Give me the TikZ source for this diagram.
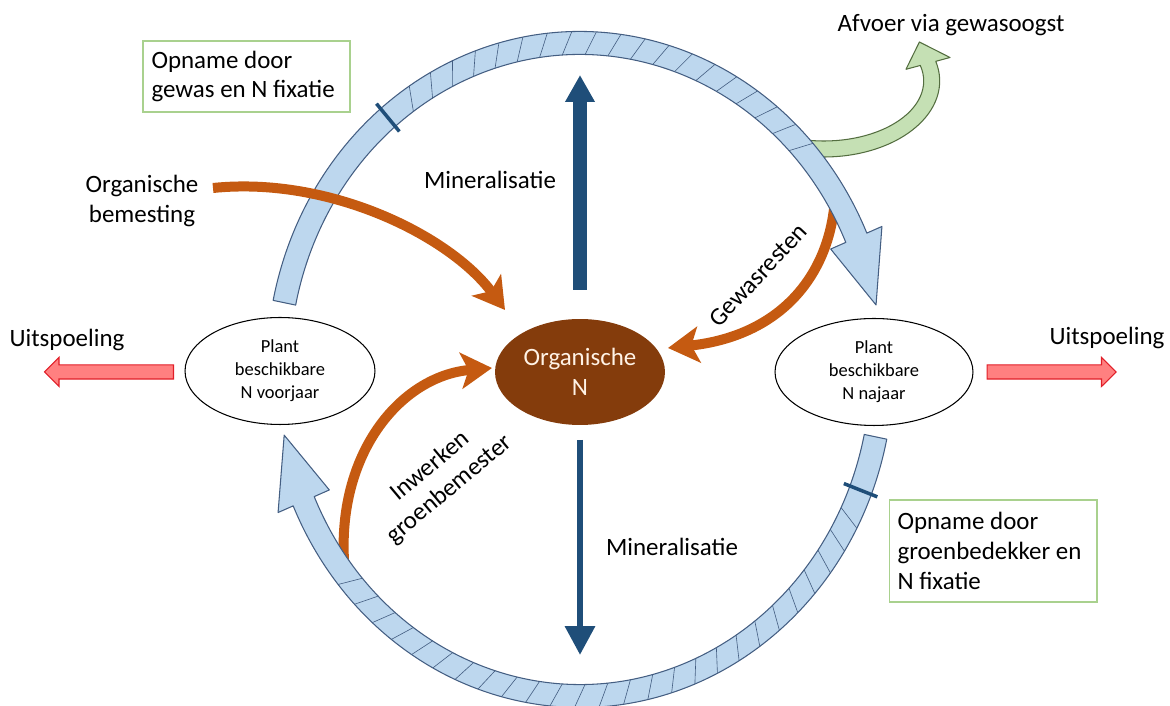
\documentclass[tikz,border=0pt]{standalone}
\usepackage{fontspec}
\setmainfont{Carlito}
\usetikzlibrary{arrows.meta, positioning, shapes.geometric, shapes.arrows}

\definecolor{bandfill}{RGB}{189,215,238}
\definecolor{bandline}{RGB}{68,94,130}
\definecolor{mineralblue}{RGB}{31,78,121}
\definecolor{feedorange}{RGB}{197,90,17}
\definecolor{orgbrown}{RGB}{132,60,12}
\definecolor{harvestfill}{RGB}{197,224,180}
\definecolor{harvestline}{RGB}{84,110,64}
\definecolor{leachfill}{RGB}{255,128,128}
\definecolor{leachline}{RGB}{225,30,40}
\definecolor{boxline}{RGB}{169,209,142}

\begin{document}
\begin{tikzpicture}[
      x=0.02cm, y=0.02cm,
      every node/.style={font=\fontsize{14.2}{17}\selectfont},
      pool/.style={ellipse, draw=black, line width=0.6pt, fill=white, inner sep=0pt, align=center, minimum height=2.14cm, font=\fontsize{10.5}{13}\selectfont},
      organic/.style={ellipse, fill=orgbrown, text=white!90!orange, inner sep=0pt, align=center, minimum width=3.4cm, minimum height=2.12cm},
      uptake/.style={rectangle, draw=boxline, line width=0.6pt, fill=white, align=flush left, inner xsep=0.17cm, inner ysep=0pt},
      leach/.style={single arrow, draw=leachline, fill=leachfill, line width=0.6pt, inner xsep=0pt, inner ysep=0.13cm, minimum width=0pt, minimum height=2.58cm, single arrow head extend=0.15cm},
      band/.style={fill=bandfill, draw=bandline, line width=0.6pt, line join=round},
      hatch/.style={draw=bandline, line width=0.35pt},
      marker/.style={draw=mineralblue, line width=2pt},
      harvest/.style={fill=harvestfill, draw=harvestline, line width=0.6pt, line join=round},
      feed/.style={draw=feedorange, line width=0.2cm, -{Stealth[length=0.62cm, width=0.72cm, inset=0.15cm]}},
      mineral/.style={draw=mineralblue, line width=0.28cm, -{Triangle[length=0.54cm, width=0.56cm]}},
      mineralthin/.style={draw=mineralblue, line width=0.13cm, -{Triangle[length=0.58cm, width=0.58cm]}}
    ]
    \useasboundingbox (0,0) rectangle (1170,706);

    % Harvest arrow (under the cycle)
    \begin{scope}[shift={(824,625)}]
      \path[harvest] ({115.7*cos(-100)},{76*sin(-100)})
        arc[start angle=-100, end angle=15, x radius=115.7, y radius=76]
        -- (126,23.5) -- (95.4,39) -- (82,11.7)
        -- ({99.7*cos(15)},{60*sin(15)})
        arc[start angle=15, end angle=-100, x radius=99.7, y radius=60]
        -- cycle;
    \end{scope}

    % Free ends
    \coordinate (residueStart) at (835,508);
    \coordinate (residueEnd) at (668,358);
    \coordinate (greenStart) at (345,133);
    \coordinate (greenEnd) at (492,338);
    \coordinate (manureStart) at (213,518);
    \coordinate (manureEnd) at (505,396);

    % Orange arrows starting under the cycle
    \draw[feed] (residueStart) .. controls (830,430) and (780,370) .. (residueEnd);
    \draw[feed] (greenStart) .. controls (333,250) and (400,330) .. (greenEnd);

    % Cycle
    \begin{scope}[shift={(580,336.5)}]
      \path[band] ({313.5*cos(168.2)},{338*sin(168.2)})
        arc[start angle=168.2, end angle=23.8, x radius=313.5, y radius=338]
        -- ({330*cos(23.8)},{354.5*sin(23.8)})
        -- ({302*cos(11.4)},{326.5*sin(11.4)})
        -- ({274*cos(23.8)},{298.5*sin(23.8)})
        -- ({290.5*cos(23.8)},{315*sin(23.8)})
        arc[start angle=23.8, end angle=168.2, x radius=290.5, y radius=315]
        -- cycle;
      \path[band] ({313.5*cos(-11.9)},{338*sin(-11.9)})
        arc[start angle=-11.9, end angle=-156.2, x radius=313.5, y radius=338]
        -- ({330*cos(-156.2)},{354.5*sin(-156.2)})
        -- ({302*cos(-168.4)},{326.5*sin(-168.4)})
        -- ({274*cos(-156.2)},{298.5*sin(-156.2)})
        -- ({290.5*cos(-156.2)},{315*sin(-156.2)})
        arc[start angle=-156.2, end angle=-11.9, x radius=290.5, y radius=315]
        -- cycle;
      \foreach \ang in {125,120.5,...,44}
        \draw[hatch] ({290.5*cos(\ang)},{315*sin(\ang)}) -- ({313.5*cos(\ang-2)},{338*sin(\ang-2)});
      \foreach \ang in {-26,-30.5,...,-140}
        \draw[hatch] ({290.5*cos(\ang)},{315*sin(\ang)}) -- ({313.5*cos(\ang-2)},{338*sin(\ang-2)});
      \draw[marker] ({284*cos(129.5)},{308.5*sin(129.5)}) -- ({320*cos(129.5)},{344.5*sin(129.5)});
      \draw[marker] ({284*cos(-21.7)},{308.5*sin(-21.7)}) -- ({320*cos(-21.7)},{344.5*sin(-21.7)});
    \end{scope}

    \draw[feed] (manureStart) .. controls (330,530) and (450,470) .. (manureEnd);

    % Nodes
    \node[organic] (orgN) at (580,334) {Organische\\N};
    \node[pool, minimum width=3.8cm] (spring) at (280,335) {Plant\\beschikbare\\N voorjaar};
    \node[pool, minimum width=3.96cm] (autumn) at (874,334) {Plant\\beschikbare\\N najaar};

    \node[uptake, text width=3.8cm, minimum height=1.42cm] (cropBox) at (246.5,629.5) {Opname door\\gewas en N fixatie};
    \node[uptake, text width=3.82cm, minimum height=2.04cm] (coverBox) at (993,155) {Opname door\\groenbedekker en\\N fixatie};

    \node[leach, shape border rotate=180] (leachLeft) at (112.5,334) {};
    \node[leach] (leachRight) at (1048,334) {};

    % Mineralisation
    \coordinate (minUpStart) at (580,416);
    \coordinate (minUpEnd) at (580,631);
    \coordinate (minDownStart) at (580,266);
    \coordinate (minDownEnd) at (580,51);
    \draw[mineral] (minUpStart) -- (minUpEnd);
    \draw[mineralthin] (minDownStart) -- (minDownEnd);

    % Labels
    \node (minUpLabel) at (490,526) {Mineralisatie};
    \node (minDownLabel) at (672,159) {Mineralisatie};
    \node[align=center] (manureLabel) at (142,505) {Organische\\bemesting};
    \node (harvestLabel) at (951,681) {Afvoer via gewasoogst};
    \node (leachLeftLabel) at (67,366) {Uitspoeling};
    \node (leachRightLabel) at (1107,368) {Uitspoeling};
    \node[rotate=47] (residueLabel) at (758,431) {Gewasresten};
    \node[rotate=40, align=center] (greenLabel) at (440,228) {Inwerken\\groenbemester};

\end{tikzpicture}
\end{document}
